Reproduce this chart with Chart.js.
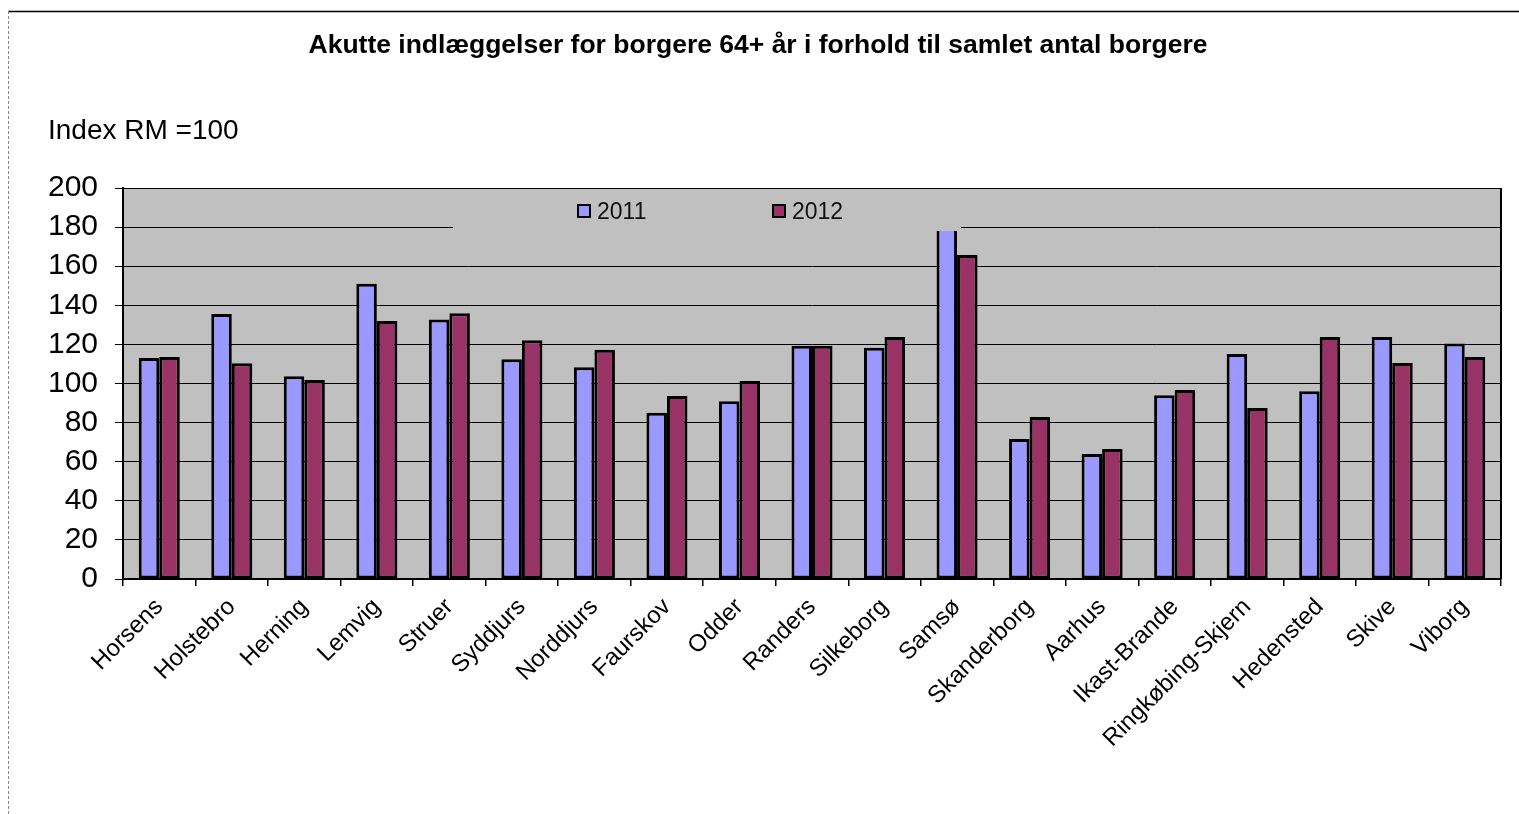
<!DOCTYPE html>
<html>
<head>
<meta charset="utf-8">
<script src="https://cdn.jsdelivr.net/npm/chart.js@4/dist/chart.umd.min.js"></script>
<style>
html,body{margin:0;padding:0;background:#fff;}
canvas{display:block;}
</style>
</head>
<body>
<canvas id="c" width="1519" height="814"></canvas>
<script>
const categories = ["Horsens","Holstebro","Herning","Lemvig","Struer","Syddjurs","Norddjurs","Faurskov","Odder","Randers","Silkeborg","Samsø","Skanderborg","Aarhus","Ikast-Brande","Ringkøbing-Skjern","Hedensted","Skive","Viborg"];
const values2011 = [113, 135.5, 103.7, 151, 132.8, 112.4, 108.3, 85.1, 90.9, 119.3, 118.3, 182, 71.6, 63.9, 94, 115.1, 96, 123.8, 120.4];
const values2012 = [113.5, 110.3, 101.8, 132, 135.9, 122.1, 117.2, 93.6, 101.3, 119.3, 123.8, 165.7, 82.9, 66.5, 96.7, 87.5, 123.8, 110.5, 113.6];
const seriesNames = ["2011","2012"];
const yTicks = [0,20,40,60,80,100,120,140,160,180,200];
const titleText = "Akutte indlæggelser for borgere 64+ år i forhold til samlet antal borgere";
const yAxisText = "Index RM =100";

const FONT = "'Liberation Sans', Arial, sans-serif";
const C2011 = "#9999FF", C2012 = "#993366", PLOT_BG = "#C0C0C0";

const decor = {
  id: 'decor',
  beforeDraw(chart) {
    const ctx = chart.ctx, a = chart.chartArea;
    ctx.save();
    ctx.fillStyle = '#fff';
    ctx.fillRect(0, 0, chart.width, chart.height);
    // outer frame
    ctx.strokeStyle = '#000'; ctx.lineWidth = 1.5;
    ctx.beginPath(); ctx.moveTo(8, 11.5); ctx.lineTo(chart.width, 11.5); ctx.stroke();
    ctx.strokeStyle = '#888'; ctx.lineWidth = 1; ctx.setLineDash([3, 2]);
    ctx.beginPath(); ctx.moveTo(8.5, 11); ctx.lineTo(8.5, chart.height); ctx.stroke();
    ctx.setLineDash([]);
    ctx.fillStyle = PLOT_BG;
    ctx.fillRect(a.left, a.top, a.right - a.left, a.bottom - a.top);
    // title & axis caption
    ctx.fillStyle = '#000';
    ctx.font = "bold 26.5px " + FONT;
    ctx.textAlign = 'center'; ctx.textBaseline = 'middle';
    ctx.fillText(titleText, 758, 46);
    ctx.font = "28px " + FONT;
    ctx.textAlign = 'left'; ctx.textBaseline = 'alphabetic';
    ctx.fillText(yAxisText, 48, 139);
    ctx.restore();
  },
  afterDatasetsDraw(chart) {
    const ctx = chart.ctx, a = chart.chartArea;
    ctx.save();
    // legend box (covers plot area part)
    const lx = a.left + 330, ly = a.top + 1, lw = 508, lh = 42;
    ctx.fillStyle = PLOT_BG;
    ctx.fillRect(lx, ly, lw, lh);
    const items = [[C2011, lx + 125], [C2012, lx + 320]];
    ctx.font = "23px " + FONT;
    ctx.textAlign = 'left'; ctx.textBaseline = 'alphabetic';
    items.forEach((it, i) => {
      ctx.fillStyle = it[0];
      ctx.fillRect(it[1], 205, 12, 12);
      ctx.strokeStyle = '#000'; ctx.lineWidth = 2;
      ctx.strokeRect(it[1], 205, 12, 12);
      ctx.fillStyle = '#111';
      ctx.fillText(seriesNames[i], it[1] + 19, 219);
    });
    // right border of plot
    ctx.strokeStyle = '#000'; ctx.lineWidth = 2;
    ctx.beginPath(); ctx.moveTo(a.right, a.top); ctx.lineTo(a.right, a.bottom); ctx.stroke();
    ctx.lineWidth = 1.2;
    ctx.beginPath(); ctx.moveTo(a.left, a.top + 0.5); ctx.lineTo(a.right, a.top + 0.5); ctx.stroke();
    ctx.restore();
  }
};

new Chart(document.getElementById('c'), {
  type: 'bar',
  data: {
    labels: categories,
    datasets: [
      { label: seriesNames[0], data: values2011, backgroundColor: C2011, borderColor: '#000000',
        borderWidth: 3, borderSkipped: false, inflateAmount: 0 },
      { label: seriesNames[1], data: values2012, backgroundColor: C2012, borderColor: '#000000',
        borderWidth: 3, borderSkipped: false, inflateAmount: 0 }
    ]
  },
  options: {
    responsive: false,
    animation: false,
    events: [],
    layout: { padding: { left: 0, top: 188, right: 18, bottom: 0 } },
    plugins: { legend: { display: false }, title: { display: false }, tooltip: { enabled: false } },
    datasets: { bar: { categoryPercentage: 0.566, barPercentage: 1.0 } },
    scales: {
      x: {
        offset: true,
        grid: { offset: true, drawOnChartArea: false, drawTicks: true, tickLength: 7, color: '#000', lineWidth: 1.5 },
        border: { display: true, color: '#000', width: 2 },
        ticks: { color: '#000', font: { family: FONT, size: 24 }, maxRotation: 45, minRotation: 45, autoSkip: false, padding: 7 },
        afterFit(s) { s.height = 235; }
      },
      y: {
        min: 0, max: 200,
        afterBuildTicks(s) { s.ticks = yTicks.map(v => ({ value: v })); },
        grid: { color: '#000', lineWidth: 1, tickLength: 8, drawTicks: true },
        border: { display: true, color: '#000', width: 2 },
        ticks: { color: '#000', font: { family: FONT, size: 30 }, padding: 17 },
        afterFit(s) { s.width = 123; }
      }
    }
  },
  plugins: [decor]
});
</script>
</body>
</html>
